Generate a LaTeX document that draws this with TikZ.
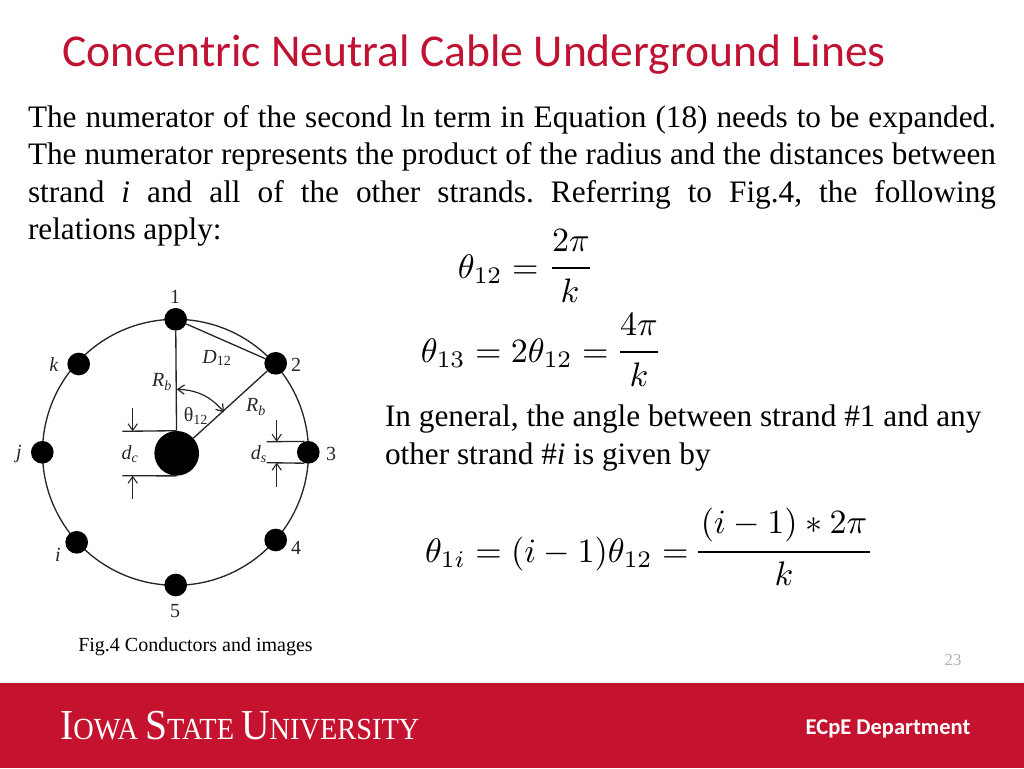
\documentclass[tikz,border=0pt]{standalone}
\usepackage{graphicx}
\usepackage[no-math]{fontspec}
\setmainfont{Liberation Serif}
\newfontfamily\calibri{Carlito}
\usetikzlibrary{arrows.meta}
\definecolor{isured}{HTML}{C01232}
\definecolor{bandred}{HTML}{C4122F}
\definecolor{pagegray}{HTML}{B0B0B0}
\newcommand{\bodyfs}{\fontsize{23.45}{28}\selectfont}
\newcommand{\labfs}{\fontsize{15}{18}\selectfont}
\newcommand{\jline}[1]{\makebox[726pt][s]{#1}}
\frenchspacing
\tikzset{
  x=0.75pt,y=-0.75pt,
  txt/.style={anchor=base west,inner sep=0pt,outer sep=0pt,font=\bodyfs,text=black},
  eqn/.style={inner sep=0pt,outer sep=0pt,scale=2.55,text=black},
  lab/.style={inner sep=0pt,outer sep=0pt,font=\labfs,text=black!85},
  ring/.style={circle,draw=black!85,line width=1pt,minimum size=199.5pt,inner sep=0pt},
  strand/.style={circle,fill=black,minimum size=17pt,inner sep=0pt},
  core/.style={circle,fill=black,minimum size=33.5pt,inner sep=0pt},
  wire/.style={draw=black!85,line width=1pt},
  dimarrow/.style={draw=black!85,line width=0.8pt,-{Straight Barb[length=5pt,width=7pt]}},
  anglearrow/.style={draw=black!85,line width=0.9pt,{Straight Barb[length=5pt,width=7pt]}-{Straight Barb[length=5pt,width=7pt]}},
  fracbar/.style={draw=black,line width=1pt},
}
\begin{document}
\begin{tikzpicture}
\useasboundingbox (0,0) rectangle (1024,768);
% footer band and title
\fill[bandred] (0,683) rectangle (1024,768);
\node[anchor=base west,inner sep=0pt,text=isured,font=\calibri\fontsize{34.2}{40}\selectfont] (title) at (62,66) {Concentric Neutral Cable Underground Lines};
% paragraph
\node[txt] (l1) at (28,127) {\jline{The numerator of the second ln term in Equation (18) needs to be expanded.}};
\node[txt] (l2) at (28,164) {\jline{The numerator represents the product of the radius and the distances between}};
\node[txt] (l3) at (28,202) {\jline{strand \textit{i} and all of the other strands. Referring to Fig.4, the following}};
\node[txt] (l4) at (28,239) {relations apply:};
% equations
\node[eqn,anchor=base east] (e1) at (548,278) {$\theta_{12}={}$};
\draw[fracbar] (552,268) -- (590,268);
\node[eqn] (e1n) at (571,241) {$2\pi$};
\node[eqn] (e1d) at (570,291) {$k$};
\node[eqn,anchor=base east] (e2) at (618,362) {$\theta_{13}=2\theta_{12}={}$};
\draw[fracbar] (620,352) -- (658,352);
\node[eqn] (e2n) at (639,325) {$4\pi$};
\node[eqn] (e2d) at (639,375) {$k$};
\node[txt] (m1) at (385,426) {In general, the angle between strand \#1 and any};
\node[txt] (m2) at (385,464) {other strand \#\textit{i} is given by};
\node[eqn,anchor=base east] (e3) at (698,562) {$\theta_{1i}=(i-1)\theta_{12}={}$};
\draw[fracbar] (698,552) -- (870,552);
\node[eqn] (e3n) at (784,525) {$(i-1)*2\pi$};
\node[eqn] (e3d) at (784,574) {$k$};
% figure
\node[ring] (outer) at (175.5,452.3) {};
\node[core] (c) at (176.7,453.3) {};
\node[strand] (s1) at (175.7,319.3) {};
\node[strand] (s2) at (275.7,363.3) {};
\node[strand] (s3) at (308.3,452.3) {};
\node[strand] (s4) at (275.7,540) {};
\node[strand] (s5) at (175.7,585) {};
\node[strand] (si) at (76.7,542.3) {};
\node[strand] (sj) at (42.3,452.3) {};
\node[strand] (sk) at (78.7,364) {};
\draw[wire] (s1) -- (c);
\draw[wire] (s2) -- (c);
\draw[wire] (s1) -- (s2);
% angle
\coordinate (a1) at (176.7,389.3);
\coordinate (a2) at (224,412.3);
\draw[anglearrow] (a1) to[bend left=24] (a2);
% dc dimension
\coordinate (dca) at (122.3,431.3);
\coordinate (dcb) at (122.3,475.7);
\coordinate (dct) at (132.7,408.3);
\coordinate (dcu) at (132.7,431.3);
\coordinate (dcv) at (132.7,499);
\coordinate (dcw) at (132.7,475.7);
\draw[wire] (dca) -- (c.north);
\draw[wire] (dcb) -- (c.south);
\draw[dimarrow] (dct) -- (dcu);
\draw[dimarrow] (dcv) -- (dcw);
% ds dimension
\coordinate (dsa) at (266.7,441.7);
\coordinate (dsb) at (266.7,462.7);
\coordinate (dst) at (276.7,420);
\coordinate (dsu) at (276.7,441.7);
\coordinate (dsv) at (276.7,487.3);
\coordinate (dsw) at (276.7,462.7);
\draw[wire] (dsa) -- (s3.110);
\draw[wire] (dsb) -- (s3.250);
\draw[dimarrow] (dst) -- (dsu);
\draw[dimarrow] (dsv) -- (dsw);
% figure labels
\node[lab] (n1) at (175,297) {1};
\node[lab] (n2) at (296,365) {2};
\node[lab] (n3) at (331,454) {3};
\node[lab] (n4) at (296,548) {4};
\node[lab] (n5) at (175,611) {5};
\node[lab] (ni) at (58,555) {\textit{i}};
\node[lab] (nj) at (19,454) {\textit{j}};
\node[lab] (nk) at (54,365) {\textit{k}};
\node[lab] (d12) at (217,358) {\textit{D}\textsubscript{12}};
\node[lab] (rb1) at (162,382) {\textit{R\textsubscript{b}}};
\node[lab] (rb2) at (256,407) {\textit{R\textsubscript{b}}};
\node[lab] (th) at (196,416) {θ\textsubscript{12}};
\node[lab] (dc) at (130,454) {\textit{d\textsubscript{c}}};
\node[lab] (ds) at (259,454) {\textit{d\textsubscript{s}}};
\node[anchor=base west,inner sep=0pt,font=\fontsize{15}{18}\selectfont] (cap) at (78,651) {Fig.4 Conductors and images};
\node[text=pagegray,inner sep=0pt,font=\fontsize{12.5}{14}\selectfont] (pg) at (953,660) {23};
% footer text
\node[anchor=base west,inner sep=0pt,text=white] (logo) at (60,739)
  {\scalebox{0.925}[1]{\fontsize{32}{36}\selectfont I\fontsize{23}{26}\selectfont OWA \fontsize{32}{36}\selectfont S\fontsize{23}{26}\selectfont TATE \fontsize{32}{36}\selectfont U\fontsize{23}{26}\selectfont NIVERSITY}};
\node[text=white,inner sep=0pt,font=\calibri\bfseries\fontsize{16.9}{20}\selectfont] (dept) at (888,729) {ECpE Department};
\end{tikzpicture}
\end{document}
